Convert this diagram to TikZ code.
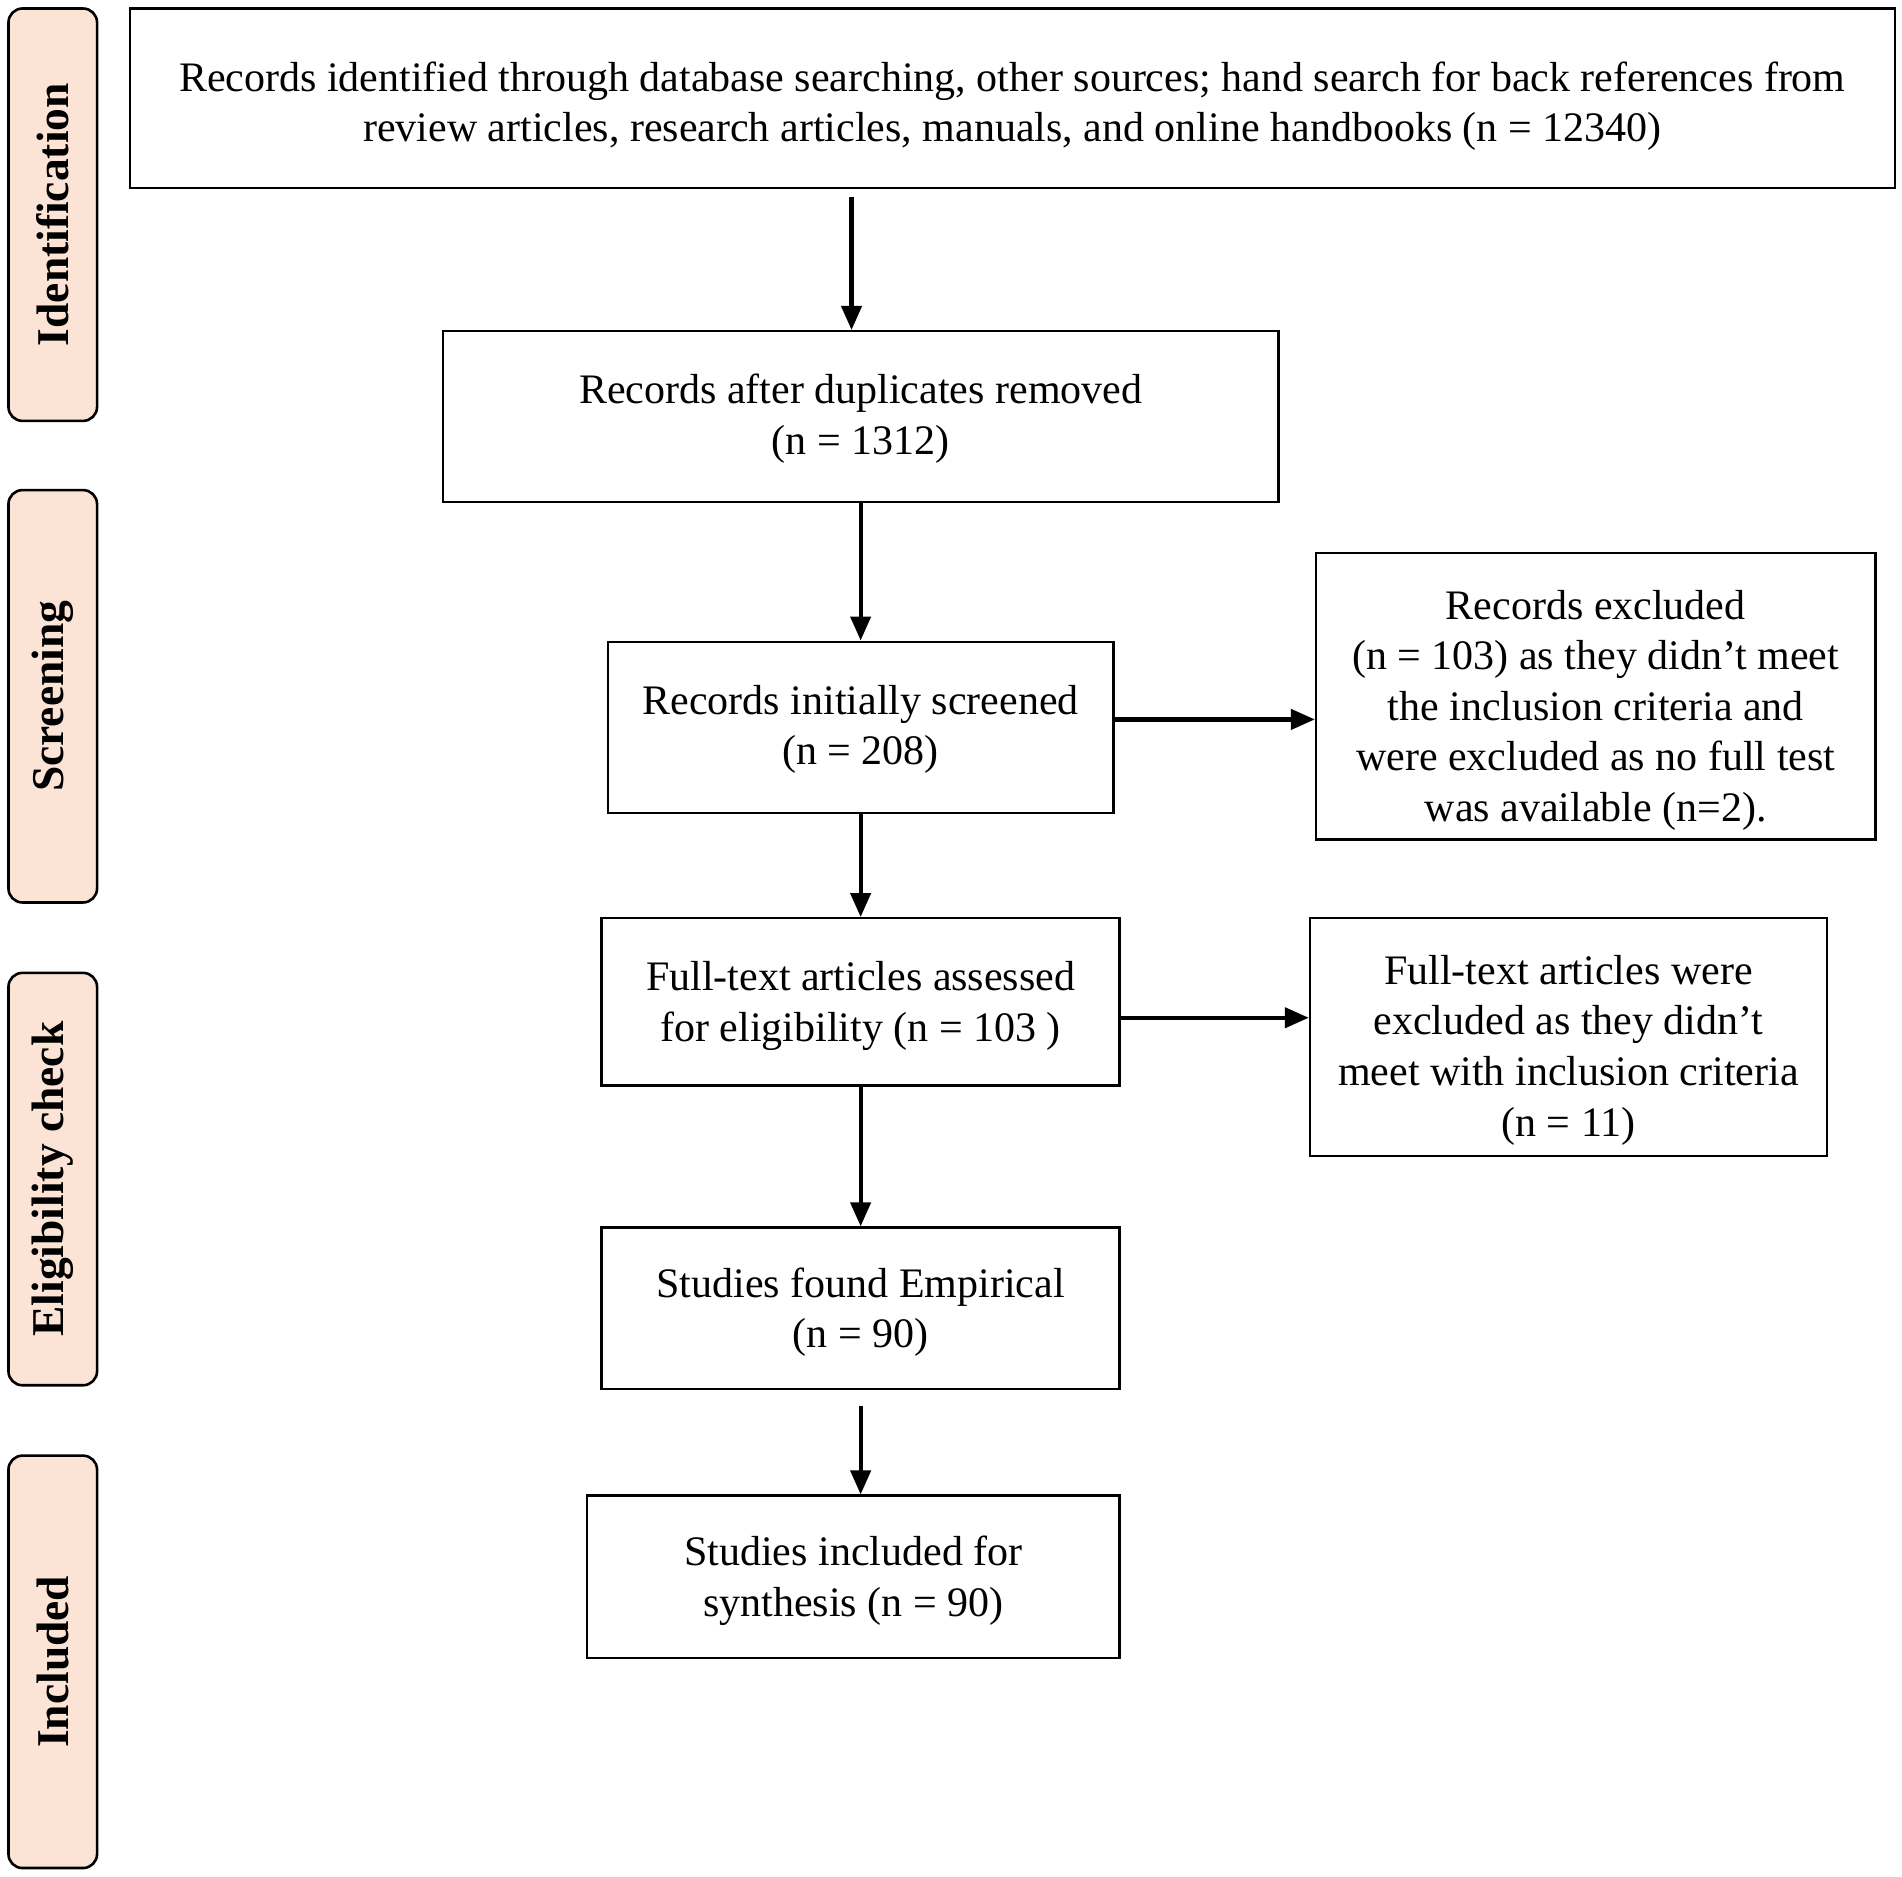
\documentclass[tikz,border=0pt]{standalone}
\usepackage{fontspec}
\setmainfont{Liberation Serif}
\usetikzlibrary{arrows.meta}
\definecolor{pillfill}{HTML}{FBE4D5}
\begin{document}
\begin{tikzpicture}[x=0.60651pt,y=-0.60651pt,
  box/.style={draw=black, line width=1.2pt, inner sep=0pt},
  boxtext/.style={align=center, inner sep=0pt, font=\fontsize{21}{25.3}\selectfont},
  pill/.style={draw=black, line width=1.3pt, fill=pillfill, rounded corners=7pt,
    rotate=90, inner sep=0pt, minimum width=206.2pt, minimum height=44.3pt,
    font=\fontsize{22.75}{26}\selectfont\bfseries},
  arr/.style={line width=2.1pt, -{Triangle[length=12pt,width=10pt]}}]
\useasboundingbox (0,0) rectangle (1568,1546.6);

% stage pills
\node[pill] (pid) at (43.5,177) {Identification};
\node[pill] (psc) at (43.5,574) {Screening};
\node[pill] (pel) at (43.5,972) {Eligibility check};
\node[pill] (pin) at (43.5,1370) {Included};

% boxes
\node[box, minimum width=882.5pt, minimum height=89.8pt] (b1) at (834.5,81) {};
\node[box, minimum width=417.9pt, minimum height=85.5pt] (b2) at (709.5,343.5) {};
\node[box, minimum width=252.9pt, minimum height=85.5pt] (b3) at (709.5,599.5) {};
\node[box, minimum width=279.6pt, minimum height=143.1pt] (b4) at (1315.5,574) {};
\node[box, minimum width=259.0pt, minimum height=83.7pt] (b5) at (709.5,826) {};
\node[box, minimum width=258.4pt, minimum height=118.9pt] (b6) at (1293,855) {};
\node[box, minimum width=259.0pt, minimum height=80.7pt] (b7) at (709.5,1078.5) {};
\node[box, minimum width=266.3pt, minimum height=81.3pt] (b8) at (703.5,1300) {};

% box texts
\node[boxtext] (t1) at ([yshift=-4pt]b1.center)
  {Records identified through database searching, other sources; hand search for back references from\\
   review articles, research articles, manuals, and online handbooks (n = 12340)};
\node[boxtext] (t2) at ([yshift=-1pt]b2.center) {Records after duplicates removed\\(n = 1312)};
\node[boxtext] (t3) at ([yshift=-1pt]b3.center) {Records initially screened\\(n = 208)};
\node[boxtext] (t4) at ([yshift=-7pt]b4.center)
  {Records excluded\\(n = 103) as they didn’t meet\\the inclusion criteria and\\were excluded as no full test\\was available (n=2).};
\node[boxtext] (t5) at ([yshift=-2pt]b5.center) {Full-text articles assessed\\for eligibility (n = 103 )};
\node[boxtext] (t6) at ([yshift=-6.5pt]b6.center)
  {Full-text articles were\\excluded as they didn’t\\meet with inclusion criteria\\(n = 11)};
\node[boxtext] (t7) at ([yshift=-2pt]b7.center) {Studies found Empirical\\(n = 90)};
\node[boxtext] (t8) at ([yshift=-2pt]b8.center) {Studies included for\\synthesis (n = 90)};

% connectors
\coordinate (a1s) at (702,162);
\draw[arr] (a1s) -- (a1s |- b2.north);
\draw[arr] (b2.south) -- (b3.north);
\draw[arr] ([yshift=3.9pt]b3.east) -- ([yshift=3.9pt]b3.east -| b4.west);
\draw[arr] (b3.south) -- (b5.north);
\draw[arr] ([yshift=-7.9pt]b5.east) -- ([yshift=-7.9pt]b5.east -| b6.west);
\draw[arr] (b5.south) -- (b7.north);
\draw[arr] ([yshift=-7.9pt]b7.south) -- (b7.south |- b8.north);
\end{tikzpicture}
\end{document}
